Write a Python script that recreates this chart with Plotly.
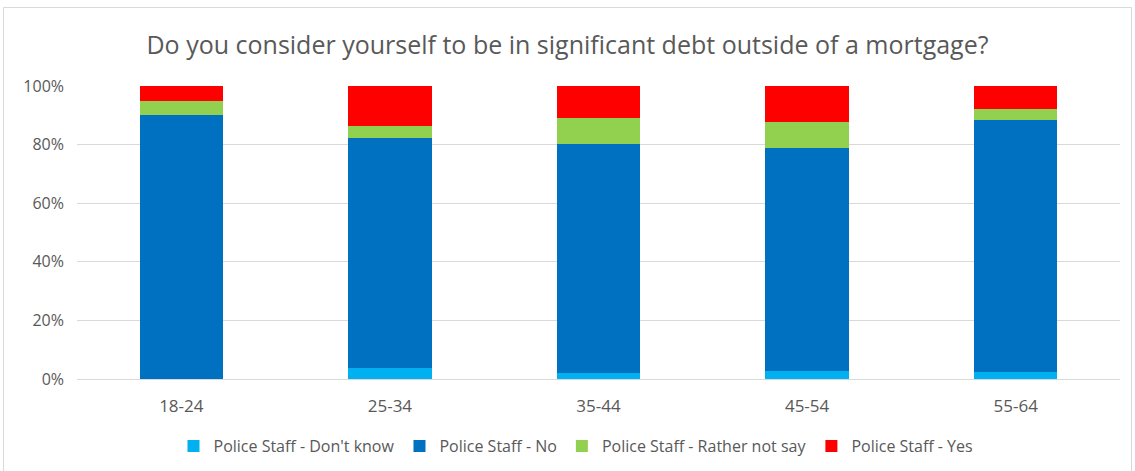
import plotly.graph_objects as go

# Survey responses by age group (share of respondents)
age_groups = ["18-24", "25-34", "35-44", "45-54", "55-64"]
dont_know = [0.0, 0.036, 0.019, 0.028, 0.023]
no = [0.900, 0.787, 0.784, 0.760, 0.860]
rather_not_say = [0.050, 0.041, 0.089, 0.088, 0.040]
yes = [0.050, 0.136, 0.108, 0.124, 0.077]

series_names = [
    "Police Staff - Don't know",
    "Police Staff - No",
    "Police Staff - Rather not say",
    "Police Staff - Yes",
]
series_values = [dont_know, no, rather_not_say, yes]
series_colors = ["#00B0F0", "#0070C0", "#92D050", "#FF0000"]

FONT = "Open Sans, Roboto, Liberation Sans, sans-serif"
TEXT_COLOR = "#595959"

W, H = 1135, 471
ML, MR, MT, MB = 77, 15, 86, 92
PW = W - ML - MR
PH = H - MT - MB

fig = go.Figure()
for name, vals, color in zip(series_names, series_values, series_colors):
    fig.add_trace(go.Bar(
        x=age_groups, y=vals, name=name,
        marker=dict(color=color, line=dict(width=0)),
        hovertemplate="%{x}: %{y:.1%}<extra>" + name + "</extra>",
    ))

# helpers converting pixel positions to paper coordinates
def px_x(px):
    return (px - ML) / PW

def px_y(py):
    return (H - MB - py) / PH

# light frame around the whole chart
fig.add_shape(
    type="rect", xref="paper", yref="paper",
    x0=px_x(3.5), x1=px_x(1131.5), y0=px_y(480), y1=px_y(7.5),
    line=dict(color="#D9D9D9", width=1), fillcolor="rgba(0,0,0,0)",
    layer="below",
)

fig.update_layout(
    width=W, height=H,
    margin=dict(l=ML, r=MR, t=MT, b=MB, pad=0, autoexpand=False),
    barmode="stack",
    bargap=0.6,
    paper_bgcolor="white",
    plot_bgcolor="white",
    font=dict(family=FONT, color=TEXT_COLOR, size=16),
    title=dict(
        text="Do you consider yourself to be in significant debt outside of a mortgage?",
        x=0.5, xref="container", xanchor="center",
        y=1 - 45 / H, yref="container", yanchor="middle",
        font=dict(family=FONT, size=25, color=TEXT_COLOR),
    ),
    xaxis=dict(
        showgrid=False, showline=False, zeroline=False,
        ticks="", ticklabelstandoff=15,
        tickfont=dict(size=17, color=TEXT_COLOR),
    ),
    yaxis=dict(
        range=[0, 1], tickvals=[0, 0.2, 0.4, 0.6, 0.8, 1.0],
        tickformat=".0%", showgrid=True, gridcolor="#D9D9D9", gridwidth=1,
        zeroline=True, zerolinecolor="#D9D9D9", zerolinewidth=1,
        showline=False, ticks="", ticklabelstandoff=12,
        tickfont=dict(size=16, color=TEXT_COLOR),
    ),
    legend=dict(
        orientation="h", x=px_x(576), xanchor="center",
        y=px_y(446), yanchor="middle",
        font=dict(size=16, color=TEXT_COLOR),
        itemwidth=30, traceorder="normal",
    ),
    showlegend=True,
)

fig.write_html("out.html")
